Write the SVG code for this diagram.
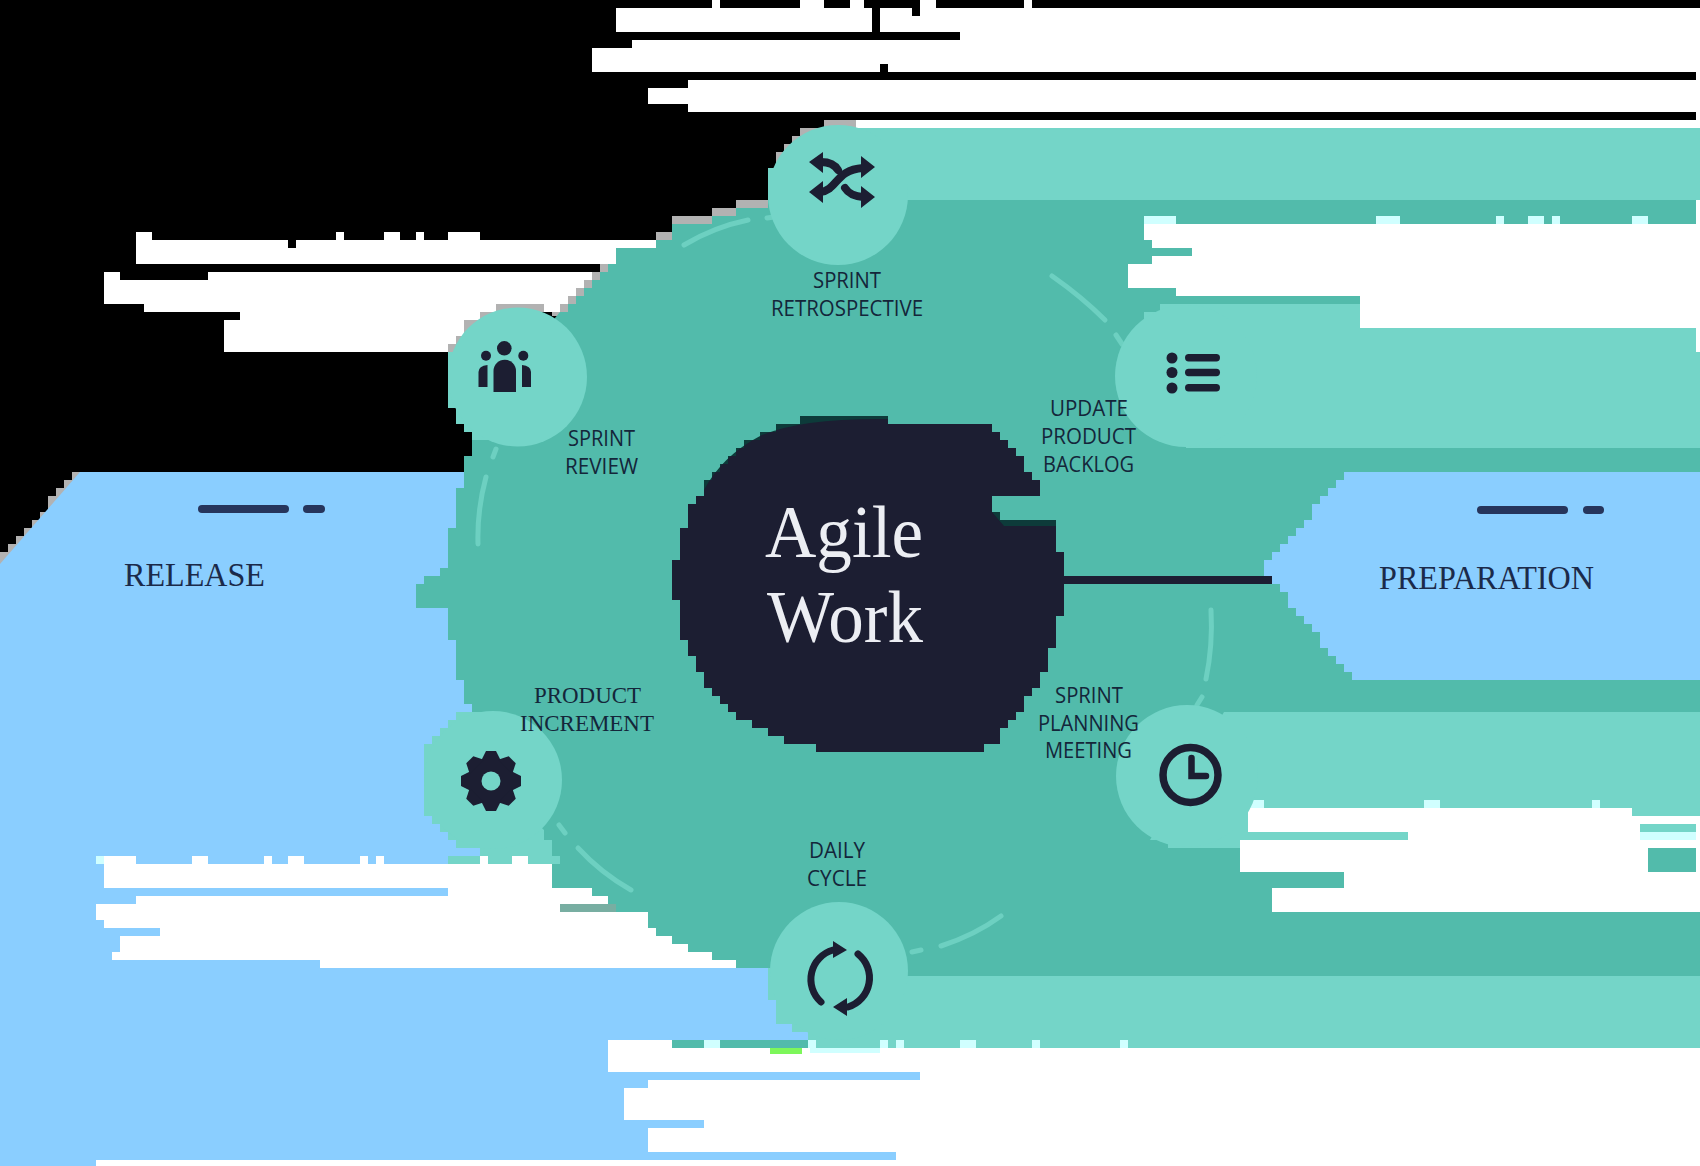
<svg xmlns="http://www.w3.org/2000/svg" width="1700" height="1166" viewBox="0 0 1700 1166">
<style>
.k{fill:#000}.w{fill:#fff}.g{fill:#b2b2b2}.b{fill:#8aceff}.m{fill:#52bbab}.l{fill:#74d5c8}.c{fill:#d0ffff}.n{fill:#1c1e32}
.s{font-family:"Open Sans","Liberation Sans",sans-serif;font-size:21px;fill:#14263a}
.t{font-family:"Liberation Serif","Times New Roman",serif;font-size:23px;fill:#14263a}
.h{font-family:"Liberation Serif","Times New Roman",serif;font-size:33px;fill:#1b2a4a}
.a{font-family:"Liberation Serif","Times New Roman",serif;font-size:75px;fill:#eceef3}
.d{fill:none;stroke:#6dd0c1;stroke-width:5;stroke-linecap:round}
.i{fill:none;stroke:#1c1e32;stroke-linecap:round}
.p{fill:#26355c}
</style>
<defs><polygon id="tooth" points="-5,-30 5,-30 10,-20 -10,-20" fill="#1c1e32"/></defs>
<g id="background">
<rect class="k" width="1700" height="1166"/>
<path class="g" d="M72 472V480H64V488H56V496H48V512H40V520H32V528H24V536H16V544H8V552H0V570H90V472Z"/>
<path class="b" d="M80 472H1000V1166H0V564Z"/>
<path class="w" d="M712 0H720V8H712ZM800 0H824V8H800ZM850 0H864V8H850ZM920 0H936V8H920ZM1024 0H1032V8H1024ZM616 8H1700V32H616ZM960 32H1700V40H960ZM632 40H1700V48H632ZM592 48H1700V72H592ZM1696 72H1700V80H1696ZM688 80H1700V88H688ZM648 88H1700V104H648ZM688 104H1700V112H688ZM1696 112H1700V120H1696ZM856 120H1700V128H856Z"/>
<path class="k" d="M872 8H880V32H872ZM912 8H920V16H912ZM880 64H888V72H880Z"/>
<path class="w" d="M136 232H152V240H136ZM336 232H344V240H336ZM384 232H400V240H384ZM416 232H424V240H416ZM448 232H480V240H448ZM136 240H288V248H136ZM296 240H656V248H296ZM136 248H616V264H136ZM104 272H120V280H104ZM208 272H592V280H208ZM104 280H584V288H104ZM104 288H576V296H104ZM104 296H568V304H104ZM144 304H496V312H144ZM544 304H560V312H544ZM240 312H480V320H240ZM224 320H464V336H224ZM224 336H456V344H224ZM224 344H448V352H224Z"/>
<path class="g" d="M824 120H856V128H824ZM800 128H824V136H800ZM792 136H800V144H792ZM784 144H792V152H784ZM776 152H784V168H776ZM736 200H768V208H736ZM712 208H736V216H712ZM672 216H712V224H672ZM656 232H672V240H656ZM600 264H608V272H600ZM592 272H600V280H592ZM584 280H592V288H584ZM576 288H584V296H576ZM568 296H576V304H568ZM560 304H568V312H560ZM552 312H560V316H552ZM496 304H544V312H496ZM480 312H496V320H480ZM464 320H480V336H464ZM456 336H464V344H456ZM448 344H456V352H448Z"/>
<path class="m" d="M768 200V208H736V216H712V224H672V240H656V248H616V264H608V272H600V280H592V288H584V296H576V304H568V312H560L545 330 510 420 480 440H472V456H464V488H456V528H448V568H440V576H424V584H416V608H448V640H456V680H464V704H472V712L480 800 544 850 552 864V888H592V896H608V904H616V912H648V928H656V936H672V944H688V952H712V960H736V968H800V1040H672V1048H1700V200Z"/>
<path class="b" d="M720 968H768V1000H776V1024H792V1032H808V1040H720Z"/>
<path class="b" d="M1344 472H1700V680H1352V672H1344V664H1336V656H1328V648H1320V632H1312V624H1304V616H1296V608H1288V592H1280V584H1264V560H1272V552H1280V544H1288V536H1296V528H1304V520H1312V504H1320V496H1328V488H1336V480H1344Z"/>
<path class="l" d="M838 128H1700V200H838ZM768 168H800V200H768Z"/>
<path class="l" d="M1160 304H1700V448H1186V376H1125L1144 320V312H1160Z"/>
<path class="l" d="M1224 712H1700V848H1168V840H1150L1186 776Z"/>
<path class="l" d="M838 976H1700V1048H808V1032H792V1024H776V1000H768V968H838Z"/>
<path class="l" d="M520 312H496V320H480V336H464V344H456V352H448V408H456V424H464V432H472V440H520Z"/>
<path class="l" d="M488 712H456V720H448V728H440V736H432V744H424V816H432V824H440V832H448V840H456V848H480V856H552V840H544V830L490 780Z"/>
<path class="l" d="M448 856H480V864H448ZM488 856H512V864H488ZM528 856H560V864H528Z"/>
<path class="w" d="M1144 224H1700V240H1144ZM1152 240H1700V248H1152ZM1192 248H1700V256H1192ZM1152 256H1700V264H1152ZM1128 264H1700V288H1128ZM1176 288H1700V296H1176ZM1360 296H1700V328H1360ZM1696 200H1700V352H1696Z"/>
<path class="w" d="M1248 808H1632V816H1248ZM1248 816H1700V824H1248ZM1248 824H1640V832H1248ZM1696 824H1700V832H1696ZM1408 832H1700V840H1408ZM1240 840H1700V848H1240ZM1240 848H1648V872H1240ZM1696 848H1700V872H1696ZM1344 872H1700V888H1344ZM1272 888H1700V912H1272Z"/>
<path class="w" d="M104 864H552V888H104ZM448 888H592V896H448ZM136 896H608V904H136ZM96 904H560V912H96ZM96 912H648V920H96ZM104 920H648V928H104ZM160 928H656V936H160ZM120 936H672V944H120ZM120 944H688V952H120ZM112 952H712V960H112ZM320 960H736V968H320ZM480 856H488V864H480ZM512 856H528V864H512ZM104 856H136V864H104ZM192 856H208V864H192ZM264 856H272V864H264ZM288 856H304V864H288ZM360 856H368V864H360ZM376 856H384V864H376Z"/>
<rect x="560" y="904" width="56" height="8" fill="#78aea2"/>
<path class="w" d="M608 1040H672V1048H608ZM608 1048H1700V1072H608ZM920 1072H1700V1080H920ZM648 1080H1700V1088H648ZM624 1088H1700V1120H624ZM704 1120H1700V1128H704ZM648 1128H1700V1152H648ZM896 1152H1700V1160H896ZM96 1160H1700V1166H96Z"/>
<path class="c" d="M704 1040H720V1048H704ZM808 1040H816V1048H808ZM880 1040H888V1048H880ZM896 1040H904V1048H896ZM960 1040H976V1048H960ZM1032 1040H1040V1048H1032ZM1120 1040H1128V1048H1120ZM810 1048H880V1053H810ZM1144 216H1176V224H1144ZM1376 216H1400V224H1376ZM1496 216H1504V224H1496ZM1528 216H1544V224H1528ZM1552 216H1560V224H1552ZM1632 216H1648V224H1632ZM1640 832H1696V840H1640ZM1248 800H1264V808H1248ZM1424 800H1440V808H1424ZM1592 800H1600V808H1592ZM96 856H104V864H96Z"/>
<rect x="770" y="1048" width="32" height="6" fill="#7df75a"/>
<rect x="198" y="505" width="91" height="8" rx="4" class="p"/><rect x="303" y="505" width="22" height="8" rx="4" class="p"/>
<rect x="1477" y="506" width="91" height="8" rx="4" class="p"/><rect x="1583" y="506" width="21" height="8" rx="4" class="p"/>
<text class="h" x="124" y="586" textLength="141" lengthAdjust="spacingAndGlyphs">RELEASE</text>
<text class="h" x="1379" y="589" textLength="215" lengthAdjust="spacingAndGlyphs">PREPARATION</text>
</g>
<g id="connectors">
<path class="d" d="M767 218L774 217"/>
<path class="d" d="M684 245Q714 227 748 220"/>
<path class="d" d="M1052 276Q1082 297 1105 320"/>
<path class="d" d="M1116 335L1122 344"/>
<path class="d" d="M1211 610Q1213 645 1206 679"/>
<path class="d" d="M1202 697L1197 705"/>
<path class="d" d="M1001 916Q975 935 941 946"/>
<path class="d" d="M921 950L912 952"/>
<path class="d" d="M631 890Q601 873 578 848"/>
<path class="d" d="M565 833L559 825"/>
<path class="d" d="M478 544Q477 510 486 477"/>
<path class="d" d="M493 457L496 449"/>
<rect x="1064" y="576" width="208" height="8" fill="#1c1e32"/>
</g>
<g id="center">
<path class="n" d="M816 752V744H784V736H768V728H752V720H736V712H728V704H720V696H712V688H704V672H696V656H688V640H680V600H672V560H680V528H688V504H696V496H704V480H712V472H720V464H728V456H736V448H744V440H760V432H776V424H800V416H888V424H992V432H1000V440H1008V448H1016V456H1024V472H1032V480H1040V496H992V512H1000V520H1056V552H1064V616H1056V648H1048V672H1040V688H1032V696H1024V712H1016V720H1008V728H1000V744H984V752Z"/>
<path d="M704 496V480H712V472H720V464H728V456H736V448H744V440H760V432H776V424H800V416H888V419Q800 418 760 436Q722 456 704 490Z" fill="#0d3b3a"/>
<path d="M992 512H1000V520H1056V526H1004Z" fill="#0d3b3a"/>
<text class="a" x="765" y="557" textLength="158" lengthAdjust="spacingAndGlyphs">Agile</text>
<text class="a" x="767" y="642" textLength="156" lengthAdjust="spacingAndGlyphs">Work</text>
</g>
<g id="sprint-retrospective">
<circle class="l" cx="838" cy="195" r="70"/>
<path class="i" stroke-width="8" stroke-linecap="butt" d="M820 192C838 190 835 170 863 168M821 162C830 162 835 165 838 170M845 188Q850 196 863 197"/>
<path class="n" d="M809 192L823 181V203ZM875 167L861 156V178ZM809 162L823 152V173ZM875 197L861 186V208Z"/>
<text class="s" x="813" y="288" textLength="68" lengthAdjust="spacingAndGlyphs">SPRINT</text>
<text class="s" x="771" y="316" textLength="152" lengthAdjust="spacingAndGlyphs">RETROSPECTIVE</text>
</g>
<g id="update-product-backlog">
<circle class="l" cx="1186" cy="376" r="71"/>
<g class="n"><circle cx="1172" cy="358" r="5.500"/><circle cx="1172" cy="372.500" r="5.500"/><circle cx="1172" cy="388" r="5.500"/>
<rect x="1185" y="354" width="35" height="7.500" rx="3.700"/><rect x="1185" y="368.700" width="35" height="7.500" rx="3.700"/><rect x="1185" y="384" width="35" height="7.500" rx="3.700"/></g>
<text class="s" x="1050" y="416" textLength="78" lengthAdjust="spacingAndGlyphs">UPDATE</text>
<text class="s" x="1041" y="444" textLength="95" lengthAdjust="spacingAndGlyphs">PRODUCT</text>
<text class="s" x="1043" y="472" textLength="91" lengthAdjust="spacingAndGlyphs">BACKLOG</text>
</g>
<g id="sprint-planning-meeting">
<circle class="l" cx="1187" cy="776" r="71"/>
<circle class="i" cx="1190.500" cy="775" r="27.500" stroke-width="7.500"/>
<path class="i" stroke-width="6.500" d="M1191.500 758V776H1206"/>
<text class="s" x="1055" y="703" textLength="68" lengthAdjust="spacingAndGlyphs">SPRINT</text>
<text class="s" x="1038" y="731" textLength="101" lengthAdjust="spacingAndGlyphs">PLANNING</text>
<text class="s" x="1045" y="758" textLength="87" lengthAdjust="spacingAndGlyphs">MEETING</text>
</g>
<g id="daily-cycle">
<circle class="l" cx="839" cy="971" r="69"/>
<path class="i" stroke-width="7" d="M821 1002A30.500 30.500 0 0 1 833 950M858 954A30.500 30.500 0 0 1 848 1007"/>
<path class="n" d="M847 950L833 941V958ZM833 1007L847 998V1016Z"/>
<text class="s" x="809" y="858" textLength="56" lengthAdjust="spacingAndGlyphs">DAILY</text>
<text class="s" x="807" y="886" textLength="60" lengthAdjust="spacingAndGlyphs">CYCLE</text>
</g>
<g id="product-increment">
<circle class="l" cx="493" cy="780" r="69"/>
<circle class="n" cx="491" cy="781" r="23"/>
<g transform="translate(491 781)"><use href="#tooth"/><use href="#tooth" transform="rotate(45)"/><use href="#tooth" transform="rotate(90)"/><use href="#tooth" transform="rotate(135)"/><use href="#tooth" transform="rotate(180)"/><use href="#tooth" transform="rotate(225)"/><use href="#tooth" transform="rotate(270)"/><use href="#tooth" transform="rotate(315)"/></g>
<circle class="l" cx="491" cy="781" r="9.500"/>
<text class="t" x="534" y="703" textLength="107" lengthAdjust="spacingAndGlyphs">PRODUCT</text>
<text class="t" x="520" y="731" textLength="134" lengthAdjust="spacingAndGlyphs">INCREMENT</text>
</g>
<g id="sprint-review">
<circle class="l" cx="517.500" cy="377" r="69.500"/>
<g class="n"><circle cx="504.300" cy="348.300" r="7.300"/><circle cx="486" cy="355.700" r="5"/><circle cx="523.300" cy="355.700" r="5"/>
<path d="M493.500 392V371A11 11 0 0 1 516 371V392Z"/>
<path d="M478.500 387V372Q478.500 366 487.500 365V387Z"/><path d="M531 387V372Q531 366 522 365V387Z"/></g>
<text class="s" x="568" y="446" textLength="67" lengthAdjust="spacingAndGlyphs">SPRINT</text>
<text class="s" x="565" y="474" textLength="73" lengthAdjust="spacingAndGlyphs">REVIEW</text>
</g>
</svg>
